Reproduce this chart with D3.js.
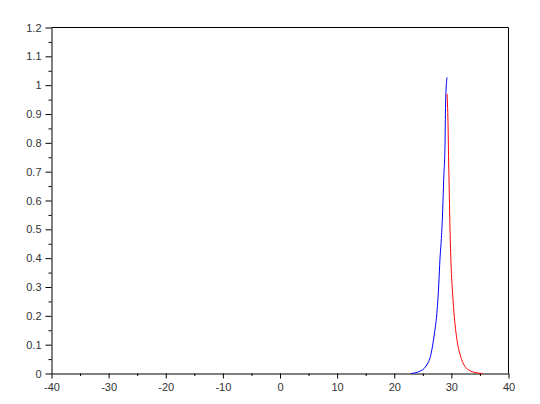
<!DOCTYPE html>
<html>
<head>
<meta charset="utf-8">
<script src="https://cdn.jsdelivr.net/npm/d3@7"></script>
<style>
html,body{margin:0;padding:0;background:#fff;}
svg{display:block;}
text{font-family:"Liberation Sans",Arial,sans-serif;font-size:11px;fill:#333;}
</style>
</head>
<body>
<svg id="chart" width="540" height="404"></svg>
<script>
const xTicks = [-40, -30, -20, -10, 0, 10, 20, 30, 40];
const xMinorTicks = [-35, -25, -15, -5, 5, 15, 25, 35];
const yTicks = [0, 0.1, 0.2, 0.3, 0.4, 0.5, 0.6, 0.7, 0.8, 0.9, 1, 1.1, 1.2];
const yMinorTicks = [0.05, 0.15, 0.25, 0.35, 0.45, 0.55, 0.65, 0.75, 0.85, 0.95, 1.05, 1.15];

const blueX = [22.95, 24.4, 25.57, 26.44, 27.02, 27.5, 27.77, 28.02, 28.25, 28.47, 28.65, 28.89, 29.0, 29.24];
const blueY = [0, 0.007, 0.026, 0.068, 0.137, 0.218, 0.3, 0.403, 0.469, 0.56, 0.67, 0.80, 0.95, 1.027];

const redX = [29.24, 29.41, 29.52, 29.64, 29.76, 29.94, 30.22, 30.52, 30.92, 31.69, 32.56, 33.71, 35.46];
const redY = [0.97, 0.87, 0.74, 0.62, 0.50, 0.38, 0.276, 0.195, 0.125, 0.055, 0.02, 0.006, 0];

const svg = d3.select("#chart");
const L = 51.5, R = 508.5, T = 27.5, B = 373.5;
const x = d3.scaleLinear().domain([-40, 40]).range([L, R]);
const y = d3.scaleLinear().domain([0, 1.2]).range([B, T]);

// frame top and right
svg.append("line").attr("x1", L).attr("x2", R).attr("y1", T).attr("y2", T).attr("stroke", "#000");
svg.append("line").attr("x1", R).attr("x2", R).attr("y1", T).attr("y2", B).attr("stroke", "#000");

// bottom axis
const gx = svg.append("g").attr("transform", `translate(0,${B})`)
  .call(d3.axisBottom(x).tickValues(xTicks).tickSize(5).tickSizeOuter(0).tickFormat(d => String(d)));
svg.append("g").attr("transform", `translate(0,${B})`)
  .call(d3.axisBottom(x).tickValues(xMinorTicks).tickSize(2.5).tickSizeOuter(0).tickFormat(""))
  .select(".domain").remove();

// left axis
const gy = svg.append("g").attr("transform", `translate(${L},0)`)
  .call(d3.axisLeft(y).tickValues(yTicks).tickSize(6).tickSizeOuter(0).tickFormat(d => String(+d.toFixed(2))));
svg.append("g").attr("transform", `translate(${L},0)`)
  .call(d3.axisLeft(y).tickValues(yMinorTicks).tickSize(3).tickSizeOuter(0).tickFormat(""))
  .select(".domain").remove();

svg.selectAll(".tick line").attr("stroke", "#000");
svg.selectAll(".domain").attr("stroke", "#000");
svg.selectAll(".tick text").attr("fill", "#333").style("font-family", '"Liberation Sans",Arial,sans-serif').style("font-size", "11px");
gx.selectAll(".tick text").attr("dy", "0.71em").attr("y", 10);
gy.selectAll(".tick text").attr("x", -10);

const line = d3.line().x(d => x(d[0])).y(d => y(d[1])).curve(d3.curveMonotoneX);
svg.append("path").datum(blueX.map((v, i) => [v, blueY[i]]))
  .attr("d", line).attr("fill", "none").attr("stroke", "#0000ff").attr("stroke-width", 1);
svg.append("path").datum(redX.map((v, i) => [v, redY[i]]))
  .attr("d", line).attr("fill", "none").attr("stroke", "#ff0000").attr("stroke-width", 1);
</script>
</body>
</html>
